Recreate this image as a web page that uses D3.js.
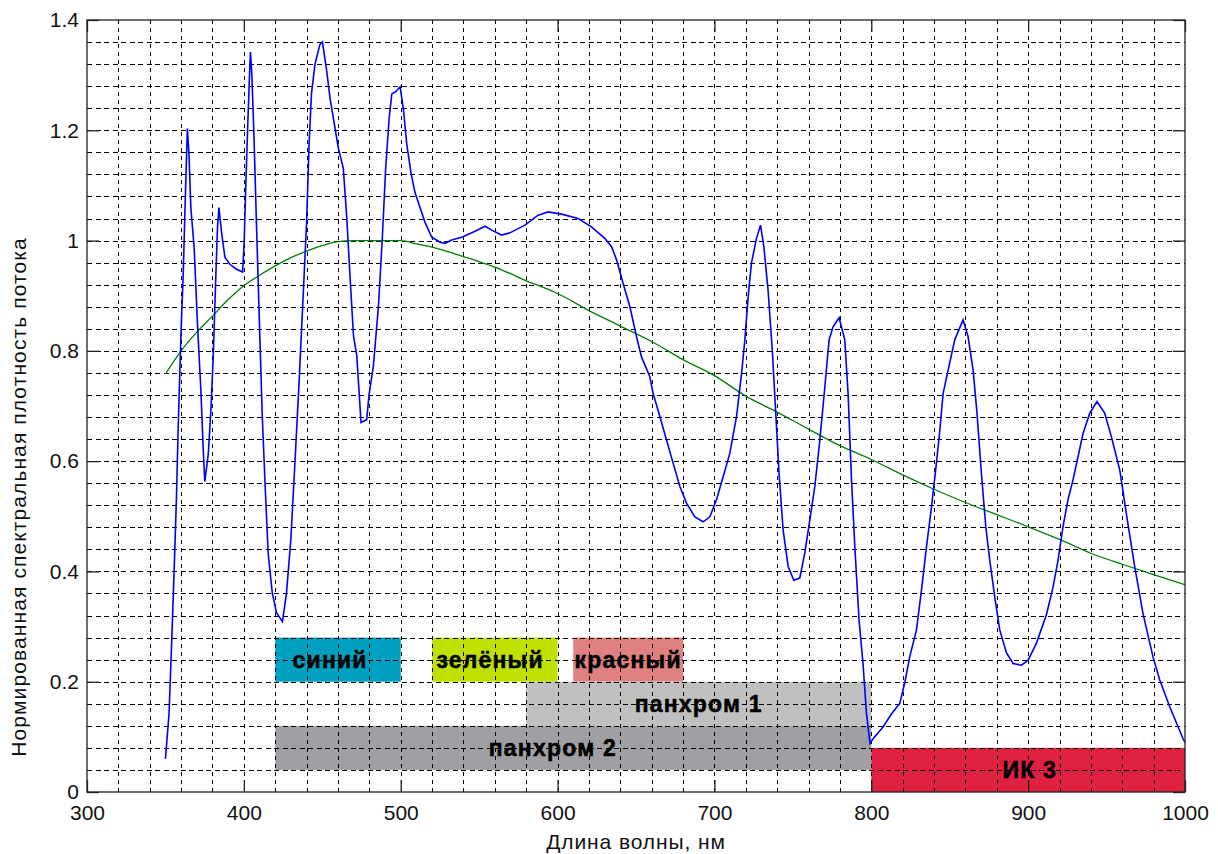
<!DOCTYPE html>
<html>
<head>
<meta charset="utf-8">
<script src="https://cdn.jsdelivr.net/npm/d3@7"></script>
<style>
  body { margin: 0; background: #fff; }
  text { font-family: "Liberation Sans", Arial, sans-serif; }
</style>
</head>
<body>
<svg id="chart" width="1218" height="854"></svg>
<script>
// measured spectrum (blue)
var spectrumNm = [350, 352.3, 354, 355.6, 357, 358.1, 359.2, 360.3, 361.3, 362.4, 364, 365, 366.2, 368.3, 370.5, 372.6, 374.1, 375.1, 377.3, 379,
  380.5, 382, 383.2, 384.1, 385.8, 387.9, 391.1, 395.3, 399.2, 400.2, 401.1, 402.3, 403.4, 404.2, 405.1, 406.4, 408.1, 409.8, 411.7, 413.8,
  415.5, 418.1, 420.8, 424.6, 427.2, 430, 432.5, 435.1, 437.8, 440, 441.6, 443.1, 445.3, 448.4, 450.1, 452.7, 455, 460.3, 463.4, 465.6,
  467.7, 469.9, 472, 473, 474.7, 478.3, 479.8, 482.6, 485.8, 488.3, 490.4, 492.6, 494.3, 496.8, 499.6, 501.7, 503.8, 506.6, 509.1, 512.3,
  515.5, 519.8, 525.1, 528.3, 532.5, 538.9, 547.4, 553.8, 558, 564.3, 569.6, 579.2, 587.6, 594, 602.5, 613.1, 621.6, 630.1, 634.4, 637.6,
  641.8, 646.1, 650.3, 653.5, 658.8, 660.9, 665.2, 669.5, 673.7, 678, 682.2, 684.3, 687.5, 692.8, 697.1, 701.3, 705.6, 709.8, 714.1, 717.3,
  719.4, 721.5, 723.6, 726.8, 729.4, 731.5, 734.2, 737, 739.1, 741.2, 743.8, 747, 750.6, 754.4, 757.6, 760.8, 764, 767.2, 770.4, 773.1,
  775.7, 779.5, 783.1, 785.2, 787.4, 789.5, 792.2, 794.8, 796.9, 799.2, 801, 807.5, 812.5, 818.2, 821.5, 824.5, 828.8, 832, 835.2, 838.4,
  841.5, 843.7, 845.8, 849, 853.2, 858.5, 861.7, 864.9, 867.4, 870.2, 873, 875.5, 878.7, 881.9, 886.2, 890.4, 895.7, 900, 905.3, 911.7,
  915.9, 919.1, 922.2, 925.4, 928.6, 931.8, 935, 939.3, 943.9, 948.8, 953.1, 958.4, 962.6, 967.9, 973.2, 979.6, 983.9, 990.2, 998.7, 1000];
var spectrumVal = [0.06, 0.142, 0.272, 0.406, 0.531, 0.657, 0.764, 0.863, 0.934, 1.051, 1.203, 1.158, 1.06, 0.988, 0.845, 0.728, 0.621, 0.563, 0.612, 0.693,
  0.791, 0.925, 1.024, 1.06, 1.015, 0.97, 0.957, 0.948, 0.943, 0.997, 1.087, 1.194, 1.284, 1.342, 1.301, 1.194, 1.024, 0.863, 0.684, 0.54,
  0.433, 0.361, 0.325, 0.309, 0.361, 0.46, 0.594, 0.737, 0.899, 1.033, 1.176, 1.266, 1.319, 1.355, 1.36, 1.31, 1.257, 1.167, 1.131, 1.042,
  0.934, 0.827, 0.791, 0.746, 0.67, 0.675, 0.72, 0.773, 0.881, 1.006, 1.131, 1.221, 1.266, 1.27, 1.279, 1.239, 1.176, 1.122, 1.087, 1.06,
  1.033, 1.006, 0.997, 0.995, 1.001, 1.006, 1.017, 1.026, 1.019, 1.01, 1.014, 1.028, 1.046, 1.052, 1.048, 1.04, 1.025, 1.004, 0.989, 0.965,
  0.922, 0.88, 0.826, 0.789, 0.753, 0.723, 0.681, 0.638, 0.596, 0.554, 0.524, 0.514, 0.499, 0.49, 0.499, 0.53, 0.572, 0.614, 0.681, 0.759,
  0.82, 0.898, 0.959, 1.004, 1.028, 0.989, 0.91, 0.796, 0.687, 0.578, 0.475, 0.409, 0.384, 0.388, 0.433, 0.493, 0.554, 0.638, 0.735, 0.82,
  0.844, 0.86, 0.82, 0.723, 0.566, 0.445, 0.312, 0.23, 0.143, 0.088, 0.096, 0.118, 0.14, 0.161, 0.2, 0.245, 0.294, 0.366, 0.445, 0.517,
  0.596, 0.656, 0.723, 0.765, 0.82, 0.856, 0.826, 0.765, 0.687, 0.578, 0.481, 0.421, 0.354, 0.294, 0.252, 0.233, 0.23, 0.239, 0.27, 0.322,
  0.372, 0.421, 0.481, 0.53, 0.566, 0.608, 0.65, 0.687, 0.708, 0.687, 0.644, 0.584, 0.505, 0.409, 0.324, 0.245, 0.203, 0.155, 0.097, 0.09];

// reference curve (green)
var solarNm = [350, 360, 370, 380, 390, 400, 410, 420, 430, 440, 450, 460, 470, 480, 490, 500, 510, 520, 530, 540, 550, 560, 570, 580, 590,
  600, 620, 640, 660, 680, 700, 720, 740, 760, 780, 800, 820, 840, 860, 880, 900, 920, 940, 960, 980, 1000];
var solarVal = [0.758, 0.8, 0.834, 0.863, 0.893, 0.918, 0.937, 0.954, 0.969, 0.981, 0.991, 0.998, 1.0, 1.0, 1.0, 1.0, 0.994, 0.988, 0.98, 0.971,
  0.962, 0.952, 0.94, 0.927, 0.916, 0.904, 0.873, 0.845, 0.817, 0.784, 0.755, 0.718, 0.689, 0.658, 0.628, 0.603, 0.575, 0.549, 0.525, 0.503,
  0.481, 0.458, 0.433, 0.413, 0.394, 0.376];

// spectral bands
var bandNames = ["синий", "зелёный", "красный", "панхром 1", "панхром 2", "ИК 3"];
var bandFrom = [420, 520, 610, 580, 420, 800];
var bandTo = [500, 600, 680, 800, 800, 1000];
var bandLow = [0.2, 0.2, 0.2, 0.12, 0.04, 0];
var bandHigh = [0.28, 0.28, 0.28, 0.2, 0.12, 0.08];
var bandLabelNm = [455, 557, 645, 690, 597, 901];
var bandColors = ["#00a0c0", "#c0e000", "#e08080", "#c0c0c0", "#a0a0a4", "#e02040"];

var xTicks = [300, 400, 500, 600, 700, 800, 900, 1000];
var yTicks = [0, 0.2, 0.4, 0.6, 0.8, 1, 1.2, 1.4];

var plotL = 87, plotR = 1185, plotT = 20, plotB = 792;

var svg = d3.select("#chart");

var x = d3.scaleLinear().domain([300, 1000]).range([plotL, plotR]);
var y = d3.scaleLinear().domain([0, 1.4]).range([plotB, plotT]);

// bands
svg.append("g").selectAll("rect")
  .data(bandNames)
  .enter().append("rect")
  .attr("x", function(d, i) { return x(bandFrom[i]); })
  .attr("y", function(d, i) { return y(bandHigh[i]); })
  .attr("width", function(d, i) { return x(bandTo[i]) - x(bandFrom[i]); })
  .attr("height", function(d, i) { return y(bandLow[i]) - y(bandHigh[i]); })
  .attr("fill", function(d, i) { return bandColors[i]; });

// dashed grid
var xGrid = d3.range(300, 1001, 20).filter(function(v) { return v > 300 && v < 1000; });
var yGrid = d3.range(0, 71, 2).map(function(v) { return v / 50; }).filter(function(v) { return v > 0 && v < 1.4; });

svg.append("g")
  .attr("transform", "translate(0," + plotB + ")")
  .call(d3.axisBottom(x).tickValues(xGrid).tickSize(-(plotB - plotT)).tickFormat(""))
  .call(function(g) { g.select(".domain").remove(); })
  .selectAll("line")
  .attr("stroke", "#000")
  .attr("shape-rendering", "crispEdges")
  .attr("stroke-dasharray", "4,4");

svg.append("g")
  .attr("transform", "translate(" + plotL + ",0)")
  .call(d3.axisLeft(y).tickValues(yGrid).tickSize(-(plotR - plotL)).tickFormat(""))
  .call(function(g) { g.select(".domain").remove(); })
  .selectAll("line")
  .attr("stroke", "#000")
  .attr("shape-rendering", "crispEdges")
  .attr("stroke-dasharray", "5,3.5");

// curves
var line = d3.line()
  .x(function(d) { return x(d[0]); })
  .y(function(d) { return y(d[1]); });

svg.append("path")
  .datum(d3.zip(solarNm, solarVal))
  .attr("fill", "none")
  .attr("stroke", "#008000")
  .attr("stroke-width", 1.3)
  .attr("d", line.curve(d3.curveMonotoneX));

svg.append("path")
  .datum(d3.zip(spectrumNm, spectrumVal))
  .attr("fill", "none")
  .attr("stroke", "#0000ff")
  .attr("stroke-width", 1.6)
  .attr("d", line.curve(d3.curveLinear));

// band labels
svg.append("g").selectAll("text")
  .data(bandNames)
  .enter().append("text")
  .attr("x", function(d, i) { return x(bandLabelNm[i]); })
  .attr("y", function(d, i) { return y((bandLow[i] + bandHigh[i]) / 2); })
  .attr("dy", "0.35em")
  .attr("text-anchor", "middle")
  .attr("font-size", 23)
  .attr("font-weight", "bold")
  .attr("letter-spacing", 1.2)
  .attr("fill", "#000")
  .attr("stroke", "#000")
  .attr("stroke-width", 0.5)
  .text(function(d) { return d; });

// box
svg.append("rect")
  .attr("x", plotL).attr("y", plotT)
  .attr("width", plotR - plotL).attr("height", plotB - plotT)
  .attr("fill", "none")
  .attr("stroke", "#222")
  .attr("stroke-width", 1.3);

// axes, ticks pointing inside
var tickFont = function(g) {
  g.select(".domain").remove();
  g.selectAll("line").attr("stroke", "#222").attr("stroke-width", 1.3);
  g.selectAll("text").attr("font-size", 21).attr("fill", "#111");
};

svg.append("g")
  .attr("transform", "translate(0," + plotB + ")")
  .call(d3.axisBottom(x).tickValues(xTicks).tickSize(-12).tickPadding(13).tickFormat(d3.format("d")))
  .call(tickFont);

svg.append("g")
  .attr("transform", "translate(0," + plotT + ")")
  .call(d3.axisTop(x).tickValues(xTicks).tickSize(-12).tickFormat(""))
  .call(tickFont);

svg.append("g")
  .attr("transform", "translate(" + plotL + ",0)")
  .call(d3.axisLeft(y).tickValues(yTicks).tickSize(-12).tickPadding(8).tickFormat(d3.format("~g")))
  .call(tickFont);

svg.append("g")
  .attr("transform", "translate(" + plotR + ",0)")
  .call(d3.axisRight(y).tickValues(yTicks).tickSize(-12).tickFormat(""))
  .call(tickFont);

// axis titles
svg.append("text")
  .attr("x", (plotL + plotR) / 2)
  .attr("y", 849)
  .attr("text-anchor", "middle")
  .attr("font-size", 21)
  .attr("letter-spacing", 0.9)
  .attr("fill", "#111")
  .text("Длина волны, нм");

svg.append("text")
  .attr("transform", "translate(26,497) rotate(-90)")
  .attr("text-anchor", "middle")
  .attr("font-size", 21)
  .attr("letter-spacing", 1.1)
  .attr("fill", "#111")
  .text("Нормированная спектральная плотность потока");
</script>
</body>
</html>
